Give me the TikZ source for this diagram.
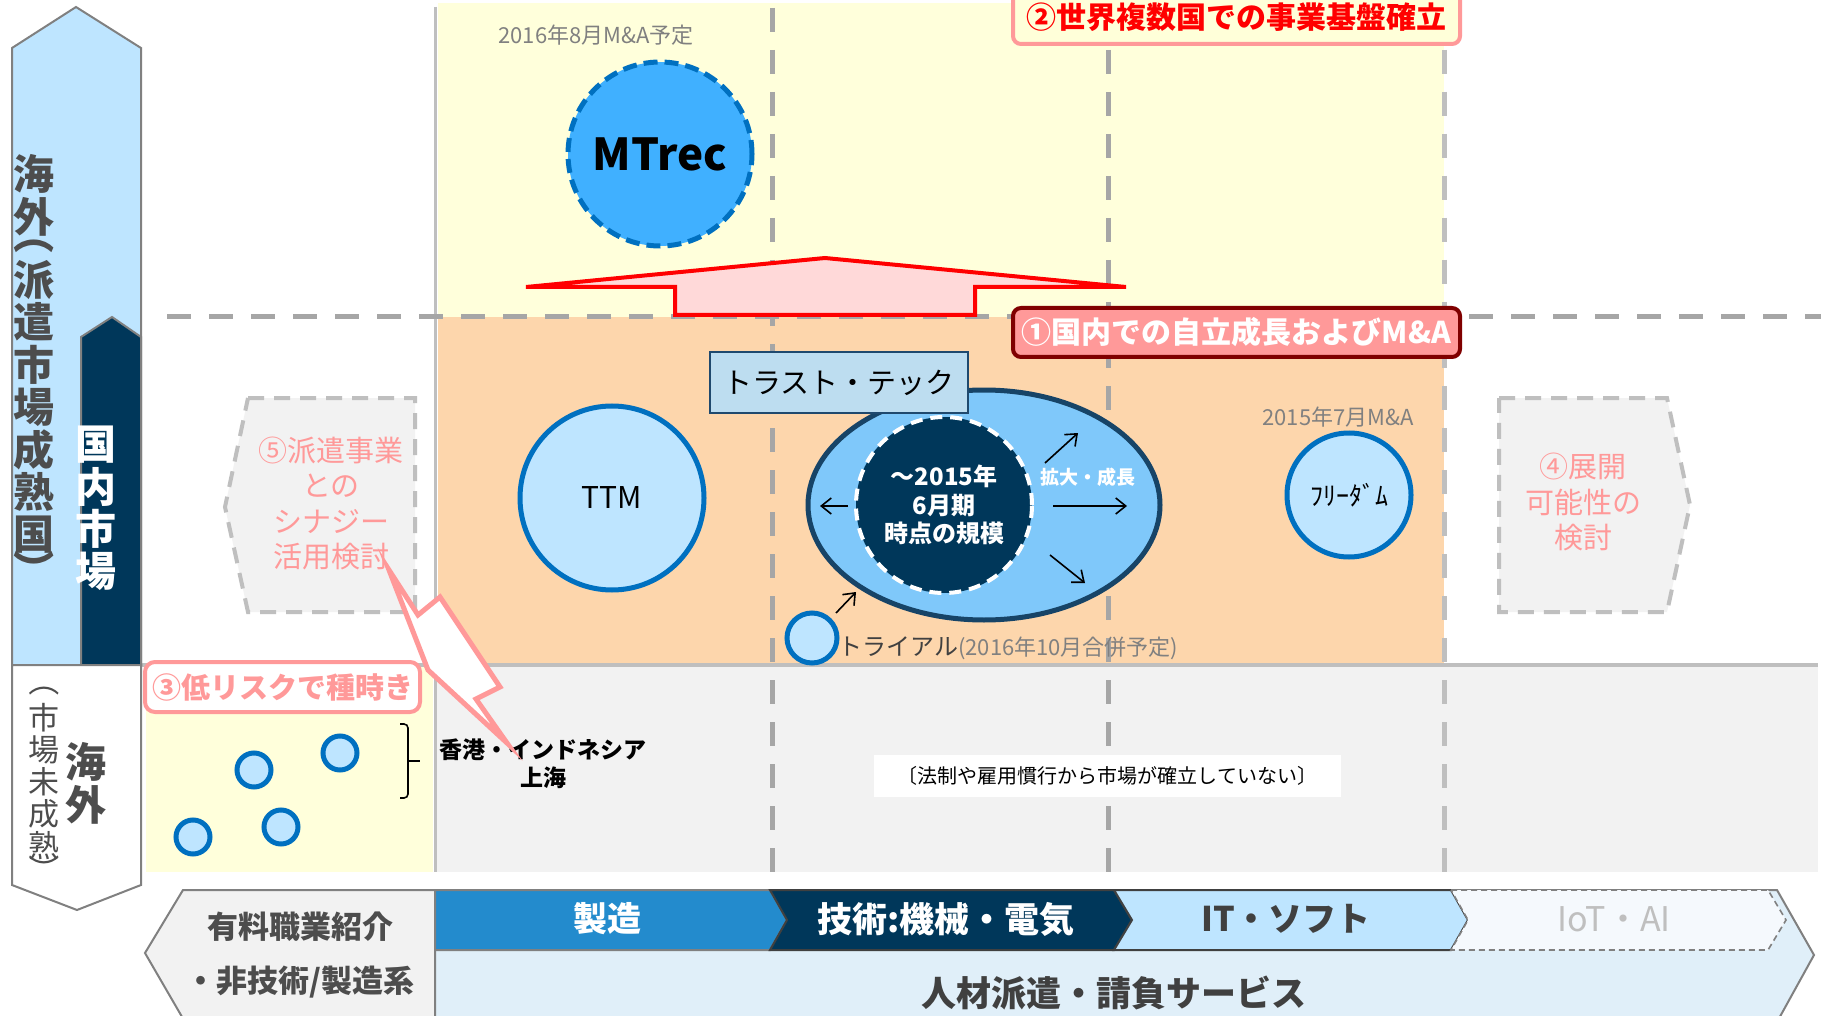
\documentclass[tikz,border=0pt]{standalone}
\usepackage{fontspec}
\setmainfont{Noto Sans CJK JP}
\usetikzlibrary{arrows.meta,shapes.geometric}
\definecolor{lblue}{RGB}{190,229,255}
\definecolor{navy}{RGB}{0,55,90}
\definecolor{ylw}{RGB}{255,255,219}
\definecolor{org}{RGB}{253,214,172}
\definecolor{lgray}{RGB}{242,242,242}
\definecolor{dgray}{RGB}{166,166,166}
\definecolor{mgray}{RGB}{191,191,191}
\definecolor{ogray}{RGB}{128,128,128}
\definecolor{tgray}{RGB}{77,77,77}
\definecolor{cpink}{RGB}{255,153,153}
\definecolor{dred}{RGB}{128,0,0}
\definecolor{lpink}{RGB}{255,217,217}
\definecolor{cblue}{RGB}{0,112,192}
\definecolor{mblue}{RGB}{64,176,255}
\definecolor{eblue}{RGB}{127,200,250}
\definecolor{enavy}{RGB}{23,68,103}
\definecolor{tbox}{RGB}{189,221,240}
\definecolor{tboxb}{RGB}{31,73,110}
\definecolor{mfg}{RGB}{35,139,205}
\definecolor{sband}{RGB}{224,239,249}
\definecolor{iot}{RGB}{245,249,253}
\definecolor{ttext}{RGB}{64,64,64}
\definecolor{lyel}{RGB}{255,255,217}
\tikzset{
  gridline/.style={line width=2.5pt, dash pattern=on 12pt off 9pt},
  outl/.style={draw=ogray, line width=1pt},
  bluecirc/.style={circle, draw=cblue, line width=2.5pt, fill=lblue, inner sep=0pt},
  vtxt/.style={inner sep=0pt, text=tgray, font=\fontsize{20.5}{24}\selectfont\bfseries},
  vsmall/.style={inner sep=0pt, text=tgray, font=\fontsize{15.5}{18}\selectfont},
  optbox/.style={draw=mgray, line width=2pt, dash pattern=on 8pt off 5pt, fill=lgray},
  opttext/.style={align=center, text=cpink, font=\fontsize{14.5}{17.7}\selectfont},
  datetext/.style={inner sep=0pt, text=ogray, font=\fontsize{11}{13}\selectfont},
  growarrow/.style={-{Straight Barb[length=5pt,width=8pt]}, line width=0.8pt, black},
  bandtext/.style={inner sep=0pt, font=\fontsize{17}{20}\selectfont\bfseries},
  seed/.style={circle, draw=cblue, line width=2.5pt, fill=lblue, inner sep=0pt, minimum size=17pt},
}
\begin{document}
\begin{tikzpicture}[x=0.5pt,y=-0.5pt]
\useasboundingbox (0,0) rectangle (1821,1016);
\fill[white] (0,0) rectangle (1821,1016);
% regions
\fill[ylw] (438,3) rectangle (1444,317);
\fill[org] (438,317) rectangle (1444,665);
\fill[lgray] (437,665) rectangle (1818,872);
\fill[ylw] (146,665) rectangle (433,872);
\draw[mgray, line width=1.5pt] (435,7) -- (435,872);
\draw[mgray, line width=2pt] (12,665) -- (1818,665);
\foreach \xx/\cc in {772/dgray,1108/dgray,1444/mgray}
  \draw[\cc, gridline] (\xx,8) -- (\xx,872);
\draw[dgray, gridline] (167,317) -- (1821,317);

% left axis arrows
\draw[outl, fill=lblue] (12,48) -- (76,7) -- (141,48) -- (141,665) -- (12,665) -- cycle;
\draw[outl, fill=navy] (81,337) -- (112,317) -- (141,337) -- (141,665) -- (81,665) -- cycle;
\draw[outl, fill=white] (12,665) -- (141,665) -- (141,885) -- (77,910) -- (12,885) -- cycle;
\foreach \c/\yy [count=\i] in {海/174,外/217,派/280,遣/322,市/364.5,場/407,成/449.5,熟/492,国/534.5}
  \node[vtxt] (ov\i) at (34,\yy) {\c};
\node[vtxt, rotate=-90] (ovl) at (34,234) {（};
\node[vtxt, rotate=-90] (ovr) at (34,570) {）};
\foreach \c/\yy [count=\i] in {国/445,内/487,市/529,場/571}
  \node[vtxt, text=white] (dm\i) at (96,\yy) {\c};
\foreach \c/\yy [count=\i] in {市/718,場/750,未/782,成/814,熟/846}
  \node[vsmall] (um\i) at (44,\yy) {\c};
\node[vsmall, rotate=-90] (uml) at (44,681) {（};
\node[vsmall, rotate=-90] (umr) at (44,870) {）};
\node[vtxt] (uo1) at (86,762) {海};
\node[vtxt] (uo2) at (86,805) {外};

% red block arrow
\draw[red, line width=2pt, fill=lpink] (526,287) -- (825,258) -- (1126,287) -- (975,287) -- (975,315) -- (675,315) -- (675,287) -- cycle;

% headline boxes
\node[draw=cpink, line width=2pt, fill=lyel, rounded corners=4pt, minimum width=223.5pt, minimum height=27pt, text=red, font=\fontsize{15}{18}\selectfont\bfseries] (goal2) at (1236.5,17) {②世界複数国での事業基盤確立};
\node[draw=dred, line width=2pt, fill=cpink, rounded corners=4pt, minimum width=223.5pt, minimum height=24.5pt, text=white, font=\fontsize{15}{18}\selectfont\bfseries] (goal1) at (1236.5,332.5) {①国内での自立成長およびM\&A};

% MTrec
\node[datetext] (mtdate) at (596,35) {2016年8月M\&A予定};
\node[circle, minimum size=92pt, inner sep=0pt, fill=mblue, draw=cblue, line width=2.5pt, dash pattern=on 7pt off 3.5pt, font=\fontsize{22}{26}\selectfont\bfseries] (mtrec) at (660,154) {MTrec};

% TTM
\node[bluecirc, minimum size=92pt, font=\fontsize{15}{18}\selectfont] (ttm) at (612,498) {TTM};

% Trust-tech
\node[ellipse, minimum width=176pt, minimum height=115pt, inner sep=0pt, fill=eblue, draw=enavy, line width=2.5pt] (tt) at (984,505) {};
\node[circle, minimum size=88pt, inner sep=0pt, fill=navy, draw=white, line width=2pt, dash pattern=on 6pt off 4pt, align=center, text=white, font=\fontsize{12}{14.25}\selectfont\bfseries] (core) at (944,505) {～2015年\\6月期\\時点の規模};
\node[inner sep=0pt, text=white, font=\fontsize{9.5}{11}\selectfont\bfseries] (grow) at (1088,477) {拡大・成長};
\node[draw=tboxb, line width=1pt, fill=tbox, minimum width=129pt, minimum height=30.5pt, inner sep=0pt, font=\fontsize{14.5}{17}\selectfont] (ttbox) at (839,382.5) {トラスト・テック};
\coordinate (aL1) at (848,506); \coordinate (aL2) at (820,506);
\coordinate (aR1) at (1053,506); \coordinate (aR2) at (1127,506);
\coordinate (aU1) at (1045,463); \coordinate (aU2) at (1078,433);
\coordinate (aD1) at (1050,555); \coordinate (aD2) at (1085,583);
\coordinate (aT1) at (836,613); \coordinate (aT2) at (856,592);
\draw[growarrow] (aL1) -- (aL2);
\draw[growarrow] (aR1) -- (aR2);
\draw[growarrow] (aU1) -- (aU2);
\draw[growarrow] (aD1) -- (aD2);
\draw[growarrow] (aT1) -- (aT2);

% trial
\node[bluecirc, minimum size=25pt] (trial) at (812,638) {};
\node[anchor=west, inner sep=0pt, text=ttext, font=\fontsize{12}{14}\selectfont] (trialtxt) at (838,648) {トライアル{\color{ogray}\fontsize{11}{13}\selectfont(2016年10月合併予定)}};

% Freedom
\node[datetext] (fddate) at (1338,417) {2015年7月M\&A};
\node[bluecirc, minimum size=62pt, font=\fontsize{13}{15}\selectfont] (fd) at (1349,495) {ﾌﾘｰﾀﾞﾑ};

% option boxes
\draw[optbox] (248,398) -- (415,398) -- (415,612) -- (248,612) -- (225,507) -- cycle;
\node[opttext] (syn) at (331,503.5) {⑤派遣事業\\との\\シナジー\\活用検討};
\draw[optbox] (1499,398) -- (1667,398) -- (1690,505) -- (1667,612) -- (1499,612) -- cycle;
\node[opttext] (exp) at (1583,502) {④展開\\可能性の\\検討};

% overseas seeds
\node[draw=cpink, line width=2pt, fill=white, rounded corners=5pt, minimum width=137.5pt, minimum height=25pt, inner sep=0pt, text=cpink, font=\fontsize{14.5}{17}\selectfont\bfseries] (low) at (282.5,687) {③低リスクで種時き};
\node[seed] (s1) at (254,770) {};
\node[seed] (s2) at (340,753) {};
\node[seed] (s3) at (193,837) {};
\node[seed] (s4) at (281,827) {};
\draw[black, line width=0.8pt, rounded corners=2pt] (400,724) -- (408,724) -- (408,798) -- (400,798);
\draw[black, line width=0.8pt] (408,761) -- (420,761);
\node[align=center, inner sep=0pt, font=\fontsize{11.5}{14}\selectfont\bfseries] (hk) at (543,764) {香港・インドネシア\\上海};
\coordinate (cs) at (389,570);
\coordinate (ct) at (507,743);
\draw[cpink, line width=2.5pt, fill=white, line join=miter] (cs) -- (418,615) -- (440,597) -- (500,687) -- (476,699) -- (ct) -- (428,670) -- cycle;

\node[fill=white, minimum width=233.5pt, minimum height=21pt, inner sep=0pt, font=\fontsize{10}{12}\selectfont] (law) at (1107.5,776) {〔法制や雇用慣行から市場が確立していない〕};

% bottom bands
\draw[outl, fill=lgray] (183,890) -- (435,890) -- (435,1022) -- (185,1022) -- (145,953) -- cycle;
\node[align=center, inner sep=0pt, text=tgray, font=\fontsize{15.5}{27}\selectfont\bfseries] (paid) at (300,955) {有料職業紹介\\・非技術/製造系};
\draw[outl, fill=sband] (435,890) -- (1777,890) -- (1814,955) -- (1777,1022) -- (435,1022) -- cycle;
\draw[outl, fill=mfg] (435,890) -- (770,890) -- (787,920) -- (770,950) -- (435,950) -- cycle;
\draw[draw=ttext, line width=1pt, fill=navy] (770,890) -- (1114,890) -- (1132,920) -- (1114,950) -- (770,950) -- (787,920) -- cycle;
\draw[draw=ttext, line width=1pt, fill=lblue] (1114,890) -- (1451,890) -- (1468,920) -- (1451,950) -- (1114,950) -- (1132,920) -- cycle;
\draw[draw=ogray, line width=0.8pt, dash pattern=on 3pt off 2pt, fill=iot] (1451,890) -- (1768,890) -- (1786,920) -- (1768,950) -- (1451,950) -- (1468,920) -- cycle;
\node[bandtext, text=white] (b1) at (607,919) {製造};
\node[bandtext, text=white, font=\fontsize{17.5}{20}\selectfont\bfseries] (b2) at (946,919) {技術:機械・電気};
\node[bandtext, text=ttext] (b3) at (1286,919) {IT・ソフト};
\node[bandtext, text=mgray, font=\fontsize{17}{20}\selectfont] (b4) at (1614,919) {IoT・AI};
\node[bandtext, text=ttext, font=\fontsize{17.5}{21}\selectfont\bfseries] (b5) at (1114,993) {人材派遣・請負サービス};
\end{tikzpicture}
\end{document}
